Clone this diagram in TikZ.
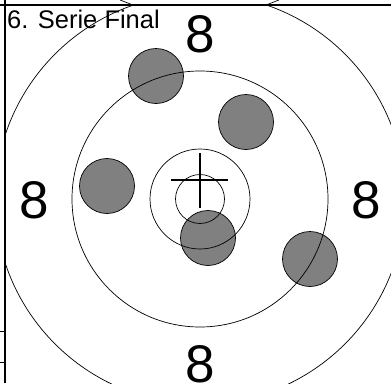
\documentclass[tikz,border=0pt]{standalone}
\usepackage{fontspec}
\setmainfont{Liberation Sans}
\begin{document}
\begin{tikzpicture}[x=1pt,y=-1pt,
    shot/.style={draw=black,fill=gray,line width=0.7pt},
    ring/.style={draw=black,line width=0.7pt},
    ringnum/.style={inner sep=0pt,font=\fontsize{53}{53}\selectfont}]
    \useasboundingbox (0,0) rectangle (391,383);
    \clip (0,0) rectangle (391,383);
        \begin{scope}
        \clip (5,5) rectangle (391,383);
        \draw[shot] (156,76) circle[radius=27.5pt];
        \draw[shot] (246,122) circle[radius=27.5pt];
        \draw[shot] (107,186) circle[radius=27.5pt];
        \draw[shot] (208,238) circle[radius=27.5pt];
        \draw[shot] (310,259) circle[radius=27.5pt];
        \draw[ring] (200,199) circle[radius=205pt];
        \draw[ring] (200,199) circle[radius=128pt];
        \draw[ring] (200,199) circle[radius=50pt];
        \draw[ring] (200,199) circle[radius=24.5pt];
        \end{scope}
        \draw[line width=2.5pt] (171,180) -- (228,180);
        \draw[line width=2.5pt] (200,153) -- (200,208);
        \draw[line width=1.2pt] (0,5) -- (391,5);
        \draw[line width=1.2pt] (5,0) -- (5,383);
        \draw[line width=0.8pt] (0,331) -- (5,331);
        \draw[line width=0.8pt] (0,362) -- (5,362);
        \draw[ring] (120,0) -- (133,5);
        \draw[ring] (266,5) -- (279,0);
        \node[anchor=base west,inner sep=0pt,font=\fontsize{25.5}{25.5}\selectfont] (title) at (7,28) {6. Serie Final};
        \node[ringnum] (top) at (200,34) {8};
        \node[ringnum] (left) at (34,200) {8};
        \node[ringnum] (right) at (366,200) {8};
        \node[ringnum] (bottom) at (200,364) {8};
\end{tikzpicture}
\end{document}
